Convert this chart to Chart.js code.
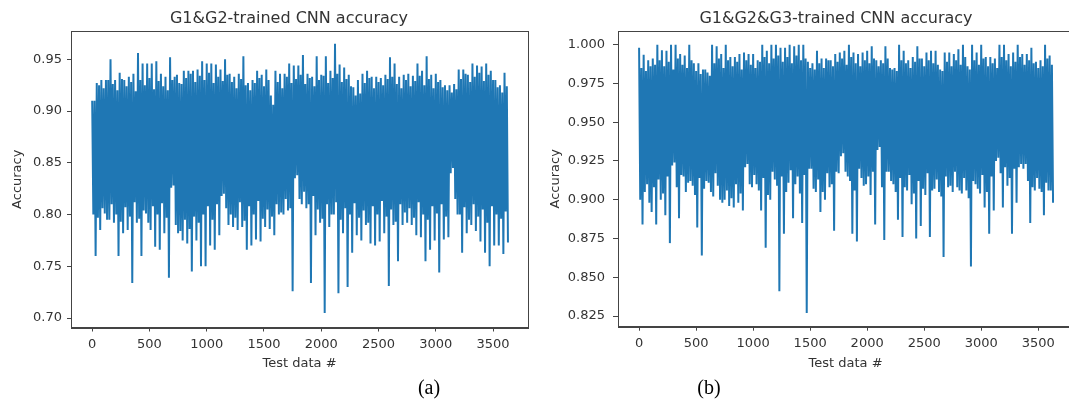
<!DOCTYPE html>
<html>
<head>
<meta charset="utf-8">
<script src="https://cdn.jsdelivr.net/npm/chart.js@4.4.1/dist/chart.umd.min.js"></script>
<style>
  html, body { margin: 0; padding: 0; background: #fff; overflow: hidden; }
  body { width: 1069px; height: 405px; position: relative; font-family: 'DejaVu Sans', sans-serif; }
  canvas { position: absolute; top: 0; }
  #chartA { left: 0; }
  #chartB { left: 545px; }
  .title { position: absolute; top: 8px; width: 400px; text-align: center; font-size: 16px; line-height: 20px; color: #333; }
  .panel { position: absolute; top: 375px; width: 60px; text-align: center; font-family: 'Liberation Serif', serif; font-size: 20px; line-height: 24px; color: #000; }
</style>
</head>
<body>
<canvas id="chartA" width="545" height="405"></canvas>
<canvas id="chartB" width="545" height="405"></canvas>
<div class="title" style="left:89px">G1&amp;G2-trained CNN accuracy</div>
<div class="title" style="left:636px">G1&amp;G2&amp;G3-trained CNN accuracy</div>
<div class="panel" style="left:399px">(a)</div>
<div class="panel" style="left:679px">(b)</div>
<script>
// one value every 10 test samples
const STEP = 10;

const accG12 = [
  0.91,0.80,0.91,0.76, 0.927,0.797,0.925,0.785, 0.93,0.806,0.922,0.801, 0.93,0.795,0.93,0.795, 0.95,0.81,0.926,0.792,
  0.93,0.80,0.92,0.76, 0.937,0.793,0.931,0.782, 0.93,0.807,0.924,0.785, 0.933,0.798,0.928,0.734, 0.936,0.812,0.919,0.792,
  0.956,0.796,0.93,0.76, 0.946,0.804,0.925,0.801, 0.946,0.792,0.932,0.785, 0.946,0.808,0.921,0.769, 0.948,0.80,0.929,0.766,
  0.936,0.811,0.924,0.782, 0.933,0.797,0.92,0.739, 0.952,0.826,0.93,0.828, 0.933,0.79,0.935,0.782, 0.927,0.784,0.926,0.775,
  0.939,0.795,0.932,0.772, 0.939,0.786,0.936,0.745, 0.939,0.798,0.928,0.775, 0.94,0.792,0.934,0.75, 0.948,0.80,0.93,0.75,
  0.946,0.808,0.937,0.77, 0.946,0.795,0.927,0.766, 0.945,0.81,0.933,0.78, 0.94,0.818,0.929,0.82, 0.95,0.806,0.935,0.79,
  0.936,0.80,0.928,0.788, 0.933,0.797,0.922,0.785, 0.936,0.812,0.931,0.788, 0.953,0.794,0.925,0.766, 0.927,0.808,0.92,0.77,
  0.93,0.80,0.927,0.776, 0.939,0.813,0.932,0.774, 0.935,0.796,0.924,0.788, 0.94,0.805,0.93,0.786, 0.915,0.798,0.906,0.78,
  0.939,0.81,0.928,0.80, 0.936,0.802,0.922,0.80, 0.936,0.815,0.933,0.804, 0.946,0.806,0.927,0.726, 0.944,0.835,0.931,0.838,
  0.944,0.815,0.935,0.81, 0.954,0.822,0.926,0.806, 0.936,0.81,0.932,0.734, 0.933,0.818,0.924,0.78, 0.953,0.805,0.93,0.792,
  0.935,0.796,0.934,0.705, 0.953,0.81,0.927,0.788, 0.939,0.80,0.932,0.80, 0.965,0.812,0.936,0.724, 0.945,0.795,0.928,0.782,
  0.942,0.806,0.931,0.73, 0.935,0.80,0.924,0.763, 0.923,0.811,0.915,0.78, 0.93,0.797,0.917,0.775, 0.936,0.804,0.927,0.79,
  0.939,0.792,0.932,0.772, 0.933,0.808,0.922,0.77, 0.933,0.80,0.928,0.774, 0.932,0.813,0.925,0.782, 0.935,0.798,0.931,0.731,
  0.952,0.805,0.933,0.79, 0.946,0.793,0.926,0.755, 0.933,0.81,0.922,0.79, 0.935,0.802,0.93,0.792, 0.936,0.806,0.924,0.79,
  0.934,0.797,0.929,0.78, 0.946,0.812,0.934,0.778, 0.939,0.80,0.925,0.755, 0.953,0.795,0.931,0.766, 0.935,0.808,0.922,0.775,
  0.936,0.801,0.928,0.744, 0.93,0.81,0.923,0.776, 0.925,0.798,0.92,0.778, 0.925,0.84,0.918,0.845, 0.926,0.815,0.921,0.80,
  0.94,0.80,0.931,0.763, 0.94,0.807,0.936,0.782, 0.935,0.795,0.928,0.79, 0.946,0.81,0.933,0.784, 0.944,0.798,0.937,0.774,
  0.943,0.805,0.929,0.763, 0.946,0.792,0.935,0.75, 0.939,0.808,0.93,0.77, 0.93,0.80,0.923,0.77, 0.925,0.796,0.918,0.762,
  0.937,0.803,0.924,0.773
];

const accG123 = [
  0.998,0.90,0.985,0.884, 0.9935,0.905,0.983,0.91, 0.99,0.898,0.986,0.892, 0.991,0.908,0.987,0.884, 1.0,0.913,0.99,0.90,
  0.9964,0.904,0.986,0.89, 0.996,0.915,0.989,0.872, 1.0,0.922,0.984,0.924, 1.0,0.908,0.991,0.888, 0.994,0.916,0.987,0.915,
  0.993,0.905,0.985,0.911, 1.0,0.912,0.99,0.909, 0.988,0.903,0.983,0.882, 0.988,0.914,0.981,0.864, 0.984,0.907,0.984,0.912,
  0.982,0.911,0.98,0.905, 1.0,0.902,0.988,0.917, 0.999,0.909,0.991,0.90, 0.994,0.898,0.985,0.90, 1.0,0.906,0.99,0.896,
  0.992,0.901,0.986,0.895, 0.992,0.91,0.989,0.898, 0.994,0.904,0.984,0.893, 0.995,0.921,0.99,0.923, 0.994,0.91,0.987,0.908,
  0.994,0.916,0.985,0.91, 0.99,0.906,0.989,0.893, 1.0,0.914,0.992,0.869, 0.996,0.903,0.988,0.90, 1.0,0.918,0.991,0.913,
  1.0,0.909,0.993,0.841, 0.998,0.915,0.989,0.878, 0.998,0.905,0.992,0.911, 1.0,0.919,0.988,0.888, 0.999,0.91,0.993,0.915,
  1.0,0.904,0.99,0.885, 1.0,0.916,0.991,0.827, 0.989,0.92,0.985,0.92, 0.988,0.907,0.984,0.905, 0.996,0.913,0.988,0.892,
  0.991,0.905,0.985,0.90, 0.991,0.917,0.99,0.908, 0.99,0.91,0.986,0.88, 0.994,0.918,0.989,0.917, 0.995,0.928,0.991,0.93,
  0.996,0.918,0.987,0.915, 1.0,0.912,0.992,0.878, 0.995,0.906,0.988,0.873, 0.994,0.92,0.986,0.914, 0.995,0.909,0.99,0.91,
  0.996,0.915,0.988,0.903, 0.999,0.918,0.991,0.884, 0.99,0.932,0.986,0.934, 0.99,0.908,0.988,0.874, 0.999,0.918,0.991,0.918,
  0.985,0.912,0.984,0.91, 0.985,0.905,0.983,0.887, 1.0,0.914,0.99,0.876, 0.996,0.908,0.988,0.906, 0.99,0.916,0.985,0.897,
  0.992,0.904,0.989,0.875, 0.999,0.912,0.991,0.883, 0.991,0.907,0.986,0.903, 0.995,0.917,0.99,0.876, 0.996,0.906,0.988,0.907,
  0.996,0.913,0.987,0.905, 0.984,0.902,0.983,0.863, 0.995,0.915,0.989,0.908, 0.995,0.909,0.986,0.905, 0.994,0.918,0.99,0.908,
  0.997,0.906,0.987,0.904, 1.0,0.914,0.992,0.906, 0.986,0.901,0.984,0.857, 1.0,0.912,0.99,0.91, 0.995,0.907,0.987,0.904,
  1.0,0.916,0.991,0.895, 0.992,0.905,0.986,0.878, 0.992,0.915,0.988,0.893, 0.991,0.925,0.985,0.927, 1.0,0.917,0.992,0.895,
  1.0,0.921,0.99,0.909, 0.994,0.914,0.986,0.878, 0.995,0.92,0.989,0.898, 1.0,0.921,0.992,0.923, 0.994,0.92,0.987,0.923,
  0.994,0.912,0.99,0.885, 0.998,0.908,0.988,0.906, 0.989,0.914,0.985,0.907, 0.99,0.905,0.986,0.89, 1.0,0.911,0.991,0.906,
  0.993,0.906,0.987,0.898
];

const xTicks = [0, 500, 1000, 1500, 2000, 2500, 3000, 3500];
const yTicksA = [0.70, 0.75, 0.80, 0.85, 0.90, 0.95];
const yTicksB = [0.825, 0.850, 0.875, 0.900, 0.925, 0.950, 0.975, 1.000];

const LINE = '#1f77b4';
const AXIS = '#444';
const TEXT = '#333';
const FONT = { family: "'DejaVu Sans', sans-serif", size: 13 };

const framePlugin = {
  id: 'frame',
  afterDatasetsDraw(chart) {
    const { ctx, chartArea: a } = chart;
    ctx.save();
    ctx.strokeStyle = AXIS;
    ctx.lineWidth = 1;
    ctx.strokeRect(Math.round(a.left) + 0.5, Math.round(a.top) + 0.5,
      Math.round(a.right - a.left), Math.round(a.bottom - a.top));
    ctx.restore();
  }
};

function makeChart(id, values, yMin, yMax, yTicks, decimals, g) {
  const pts = values.map((v, i) => ({ x: i * STEP, y: v }));
  return new Chart(document.getElementById(id), {
    type: 'line',
    data: { datasets: [{ data: pts, borderColor: LINE, borderWidth: 2, pointRadius: 0, tension: 0, fill: false }] },
    plugins: [framePlugin],
    options: {
      responsive: false,
      animation: false,
      devicePixelRatio: 1,
      layout: { padding: { top: 31, right: 17, bottom: 0, left: 0 } },
      plugins: { legend: { display: false }, tooltip: { enabled: false } },
      scales: {
        x: {
          type: 'linear', min: -185, max: 3805,
          afterBuildTicks: s => { s.ticks = xTicks.map(v => ({ value: v })); },
          afterFit: s => { s.height = g.xh; },
          grid: { drawOnChartArea: false, tickLength: 4, tickColor: AXIS },
          border: { color: AXIS },
          ticks: { color: TEXT, font: FONT, padding: 5, maxRotation: 0, autoSkip: false, callback: v => String(v) },
          title: { display: true, text: 'Test data #', color: TEXT, font: FONT, padding: { top: 0, bottom: 34 } }
        },
        y: {
          min: yMin, max: yMax,
          afterBuildTicks: s => { s.ticks = yTicks.map(v => ({ value: v })); },
          afterFit: s => { s.width = g.yw; },
          grid: { drawOnChartArea: false, tickLength: g.tl, tickColor: AXIS },
          border: { color: AXIS },
          ticks: { color: TEXT, font: FONT, padding: g.tp, autoSkip: false, callback: v => v.toFixed(decimals) },
          title: { display: true, text: 'Accuracy', color: TEXT, font: FONT, padding: { top: g.titlePad, bottom: 0 } }
        }
      }
    }
  });
}

makeChart('chartA', accG12, 0.6909, 0.9773, yTicksA, 2, { xh: 77.5, yw: 71, tl: 4, tp: 5, titlePad: 9.5 });
makeChart('chartB', accG123, 0.8181, 1.0088, yTicksB, 3, { xh: 78.3, yw: 73, tl: 5, tp: 8, titlePad: 2.8 });
</script>
</body>
</html>
